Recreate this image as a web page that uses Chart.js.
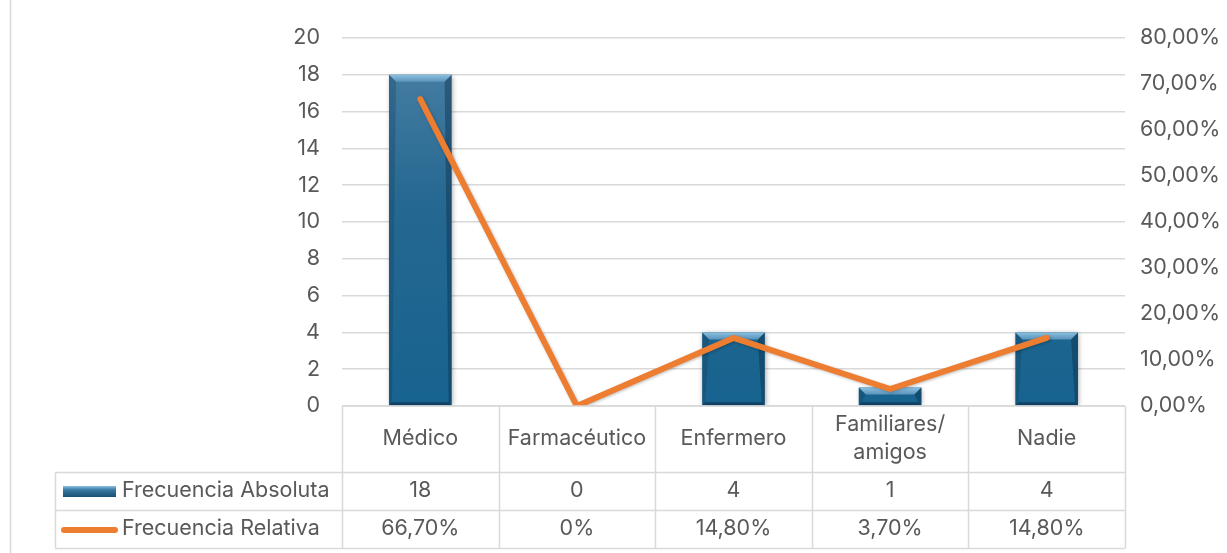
<!DOCTYPE html>
<html>
<head>
<meta charset="utf-8">
<script src="https://cdn.jsdelivr.net/npm/chart.js@4.4.1/dist/chart.umd.min.js"></script>
<style>
  html, body { margin: 0; padding: 0; background: #fff; }
  #wrap { width: 1227px; height: 553px; }
</style>
</head>
<body>
<div id="wrap"><canvas id="c" width="1227" height="553"></canvas></div>
<script>
const categories = ['Médico', 'Farmacéutico', 'Enfermero', 'Familiares/\namigos', 'Nadie'];
const absoluta = [18, 0, 4, 1, 4];
const relativa = [66.7, 0, 14.8, 3.7, 14.8];
const relativaText = ['66,70%', '0%', '14,80%', '3,70%', '14,80%'];
const seriesNames = ['Frecuencia Absoluta', 'Frecuencia Relativa'];

const FONT = 'Inter, "Open Sans", sans-serif';
const FS = 21.5;
const TXT = '#595959';
const GRID = '#d9d9d9';
const ORANGE = '#ed7d31';

// soft shadow + bevel look for the bars, drawn on the library's bar elements
const bevelPlugin = {
  id: 'bevel',
  beforeDatasetDraw(chart, args) {
    const ctx = chart.ctx;
    ctx.save();
    if (args.meta.type === 'bar') {
      ctx.shadowColor = 'rgba(0,0,0,0.35)';
      ctx.shadowBlur = 5;
      ctx.shadowOffsetX = 1;
      ctx.shadowOffsetY = 1;
    } else {
      ctx.shadowColor = 'rgba(0,0,0,0.25)';
      ctx.shadowBlur = 3;
      ctx.shadowOffsetX = 1;
      ctx.shadowOffsetY = 1;
    }
  },
  afterDatasetDraw(chart, args) {
    const ctx = chart.ctx;
    ctx.restore();
    if (args.meta.type !== 'bar') return;
    args.meta.data.forEach(bar => {
      const p = bar.getProps(['x', 'y', 'base', 'width'], true);
      const l = p.x - p.width / 2, r = p.x + p.width / 2, t = p.y, b = p.base;
      const h = b - t;
      if (h < 1) return;
      const bv = Math.min(7, h / 2);
      const sd = Math.min(3, h / 2);
      ctx.save();
      const tg = ctx.createLinearGradient(0, t, 0, t + bv);
      tg.addColorStop(0, '#8cc0e0');
      tg.addColorStop(1, '#5a93ba');
      ctx.fillStyle = tg;
      ctx.beginPath();
      ctx.moveTo(l, t); ctx.lineTo(r, t); ctx.lineTo(r - bv, t + bv); ctx.lineTo(l + bv, t + bv); ctx.closePath(); ctx.fill();
      ctx.fillStyle = 'rgba(20,60,90,0.3)';
      ctx.beginPath();
      ctx.moveTo(l, t); ctx.lineTo(l + bv, t + bv); ctx.lineTo(l + sd, b - sd); ctx.lineTo(l, b); ctx.closePath(); ctx.fill();
      ctx.fillStyle = 'rgba(10,40,65,0.4)';
      ctx.beginPath();
      ctx.moveTo(r, t); ctx.lineTo(r - bv, t + bv); ctx.lineTo(r - sd, b - sd); ctx.lineTo(r, b); ctx.closePath(); ctx.fill();
      ctx.fillStyle = 'rgba(10,40,65,0.55)';
      ctx.beginPath();
      ctx.moveTo(l, b); ctx.lineTo(l + sd, b - sd); ctx.lineTo(r - sd, b - sd); ctx.lineTo(r, b); ctx.closePath(); ctx.fill();
      ctx.restore();
    });
  }
};

// data table under the plot plus the chart frame
const tablePlugin = {
  id: 'dataTable',
  beforeDraw(chart) {
    const ctx = chart.ctx;
    ctx.save();
    ctx.strokeStyle = GRID;
    ctx.lineWidth = 1.5;
    ctx.beginPath();
    ctx.moveTo(10.5, 0); ctx.lineTo(10.5, 553);
    ctx.stroke();
    ctx.restore();
  },
  afterDraw(chart) {
    const ctx = chart.ctx;
    const area = chart.chartArea;
    const x = chart.scales.x;
    const n = categories.length;
    const cw = (area.right - area.left) / n;
    const top = area.bottom;
    const r1 = 472.5, r2 = 510.5, r3 = 548.5;
    const legL = 55.5;
    ctx.save();
    ctx.strokeStyle = GRID;
    ctx.lineWidth = 1.5;
    ctx.beginPath();
    ctx.moveTo(area.left, top); ctx.lineTo(area.right, top);
    [r1, r2, r3].forEach(y => { ctx.moveTo(legL, y); ctx.lineTo(area.right, y); });
    for (let i = 0; i <= n; i++) {
      const gx = Math.round(area.left + i * cw) + 0.5;
      ctx.moveTo(gx, top); ctx.lineTo(gx, r3);
    }
    ctx.moveTo(legL, r1); ctx.lineTo(legL, r3);
    ctx.stroke();

    ctx.fillStyle = TXT;
    ctx.font = FS + 'px ' + FONT;
    ctx.textAlign = 'center';
    ctx.textBaseline = 'middle';
    categories.forEach((c, i) => {
      const cx = x.getPixelForValue(i);
      const lines = c.split('\n');
      if (lines.length === 1) {
        ctx.fillText(lines[0], cx, 439);
      } else {
        ctx.fillText(lines[0], cx, 425);
        ctx.fillText(lines[1], cx, 453);
      }
      ctx.fillText(String(absoluta[i]), cx, 491);
      ctx.fillText(relativaText[i], cx, 529);
    });

    ctx.textAlign = 'left';
    ctx.fillText(seriesNames[0], 122, 491);
    ctx.fillText(seriesNames[1], 122, 529);

    // legend keys
    const g = ctx.createLinearGradient(0, 486, 0, 497);
    g.addColorStop(0, '#8cc0e0');
    g.addColorStop(0.35, '#3a7aa3');
    g.addColorStop(1, '#174f72');
    ctx.fillStyle = g;
    ctx.fillRect(63, 486, 53, 11);
    ctx.strokeStyle = ORANGE;
    ctx.lineWidth = 6;
    ctx.lineCap = 'round';
    ctx.beginPath();
    ctx.moveTo(64, 530); ctx.lineTo(115, 530);
    ctx.stroke();
    ctx.restore();
  }
};

new Chart(document.getElementById('c'), {
  data: {
    labels: categories,
    datasets: [
      {
        type: 'line',
        label: seriesNames[1],
        data: relativa,
        yAxisID: 'y2',
        borderColor: ORANGE,
        borderWidth: 6,
        borderCapStyle: 'round',
        borderJoinStyle: 'round',
        pointRadius: 0,
        tension: 0,
        order: 0
      },
      {
        type: 'bar',
        label: seriesNames[0],
        data: absoluta,
        yAxisID: 'y',
        backgroundColor: ctx => {
          const c = ctx.chart.ctx;
          const gr = c.createLinearGradient(0, 38, 0, 406);
          gr.addColorStop(0, '#4c81a5');
          gr.addColorStop(0.45, '#256891');
          gr.addColorStop(1, '#17638f');
          return gr;
        },
        borderWidth: 0,
        barPercentage: 0.4,
        categoryPercentage: 1,
        order: 1
      }
    ]
  },
  options: {
    responsive: false,
    animation: false,
    layout: { padding: { top: 38, bottom: 147, left: 0, right: 0 } },
    plugins: { legend: { display: false }, tooltip: { enabled: false } },
    scales: {
      x: { display: false, offset: true },
      y: {
        position: 'left',
        min: 0, max: 20,
        afterFit: s => { s.width = 342; },
        border: { display: false },
        grid: { color: GRID, lineWidth: 1.5, drawTicks: false },
        ticks: { stepSize: 2, padding: 22, color: TXT, font: { family: FONT, size: FS } }
      },
      y2: {
        position: 'right',
        min: 0, max: 80,
        afterFit: s => { s.width = 102; },
        border: { display: false },
        grid: { display: false, drawTicks: false },
        ticks: {
          stepSize: 10, padding: 15, color: TXT, font: { family: FONT, size: FS },
          callback: v => v.toFixed(2).replace('.', ',') + '%'
        }
      }
    }
  },
  plugins: [bevelPlugin, tablePlugin]
});
</script>
</body>
</html>
